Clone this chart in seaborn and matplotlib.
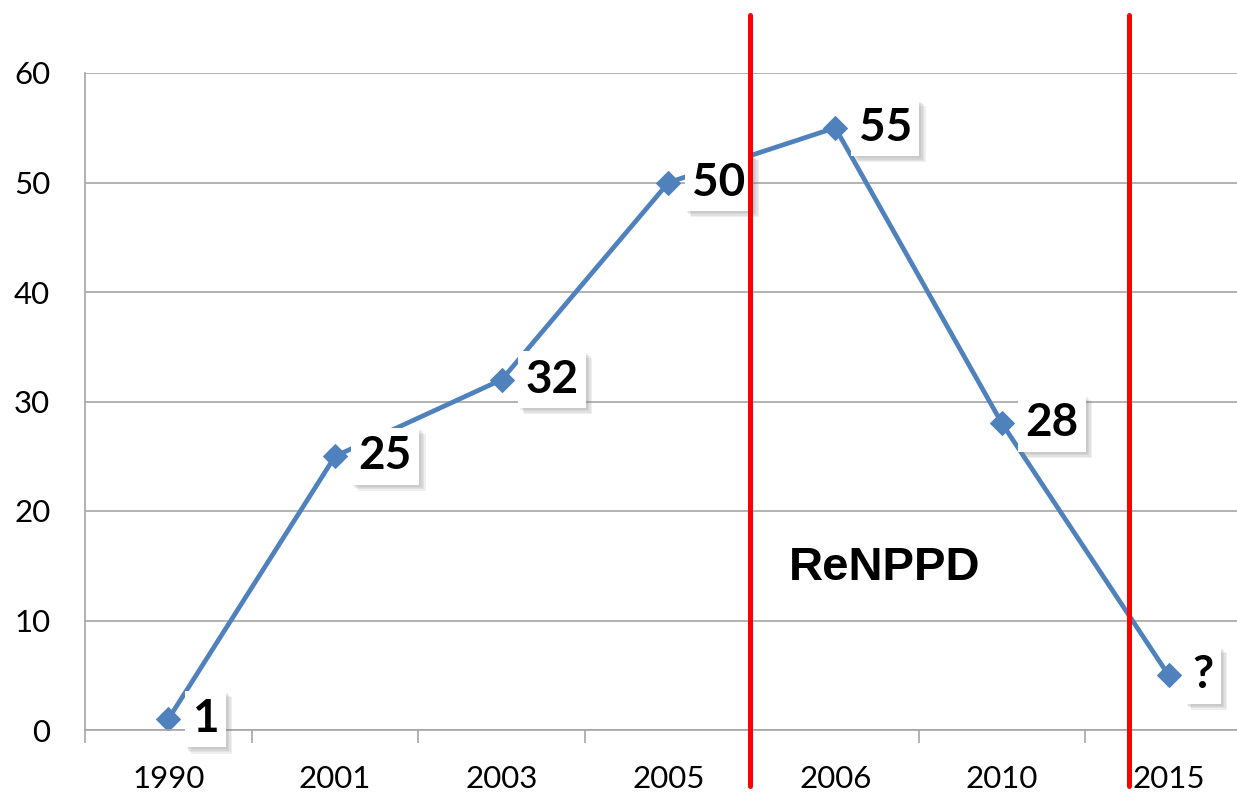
import matplotlib
matplotlib.use("Agg")
import matplotlib.pyplot as plt
import matplotlib.patheffects as pe
import seaborn as sns
import pandas as pd

# data
years = ["1990", "2001", "2003", "2005", "2006", "2010", "2015"]
values = [1, 25, 32, 50, 55, 28, 5]
point_labels = ["1", "25", "32", "50", "55", "28", "?"]
y_ticks = [0, 10, 20, 30, 40, 50, 60]

df = pd.DataFrame({"year": years, "value": values})

sns.set_style("white")
plt.rcParams["font.family"] = ["Lato", "DejaVu Sans"]

fig = plt.figure(figsize=(12.37, 7.93), dpi=100)
ax = fig.add_axes([85 / 1237, 63 / 793, 1167 / 1237, 657 / 793])

sns.lineplot(data=df, x="year", y="value", sort=False, ax=ax,
             color="#4F81BD", linewidth=3.4, marker="D", markersize=12,
             markeredgecolor="#4F81BD")

# soft drop shadow: a few faint offset copies
shadow = [pe.SimplePatchShadow(offset=(d, -d), shadow_rgbFace="#808080", alpha=0.12)
          for d in (1.5, 2.5, 3.5, 4.5)]

# value labels in white boxes
for i, (v, lab) in enumerate(zip(values, point_labels)):
    t = ax.annotate(lab, (i, v), xytext=(17, 0), textcoords="offset points",
                    ha="left", va="center", fontsize=33, fontweight="bold",
                    color="black", zorder=5,
                    bbox=dict(boxstyle="square,pad=0.16", fc="white", ec="none"))
    t.get_bbox_patch().set_path_effects(shadow + [pe.Normal()])

# red separators
for xv in [3.49, 5.765]:
    ax.axvline(xv, ymin=-0.085, ymax=1.088, color="#FF0000", linewidth=3.6,
               clip_on=False, zorder=6)

ax.text(3.72, 14.8, "ReNPPD", fontsize=34, fontweight="bold", color="black",
        family="Liberation Sans", ha="left", va="center")

ax.set_xlim(-0.5, 6.5)
ax.set_ylim(0, 60)
ax.set_yticks(y_ticks)
ax.set_xticks(range(len(years)))
ax.set_xticks([i + 0.5 for i in range(-1, len(years))], minor=True)
ax.set_xticklabels(years)
ax.yaxis.grid(True, color="#A6A6A6", linewidth=1.2)
ax.set_axisbelow(True)

for s in ["top", "right"]:
    ax.spines[s].set_visible(False)
for s in ["left", "bottom"]:
    ax.spines[s].set_color("#A6A6A6")
    ax.spines[s].set_linewidth(1.2)

ax.tick_params(axis="y", length=9, color="#A6A6A6", width=1.2, pad=16,
               labelsize=22.5, labelcolor="black")
ax.tick_params(axis="x", which="major", length=0, pad=25, labelsize=22.5,
               labelcolor="black")
ax.tick_params(axis="x", which="minor", length=9, color="#A6A6A6", width=1.2,
               direction="out", bottom=True)

ax.set_xlabel("")
ax.set_ylabel("")

fig.savefig("out.png", dpi=100)
